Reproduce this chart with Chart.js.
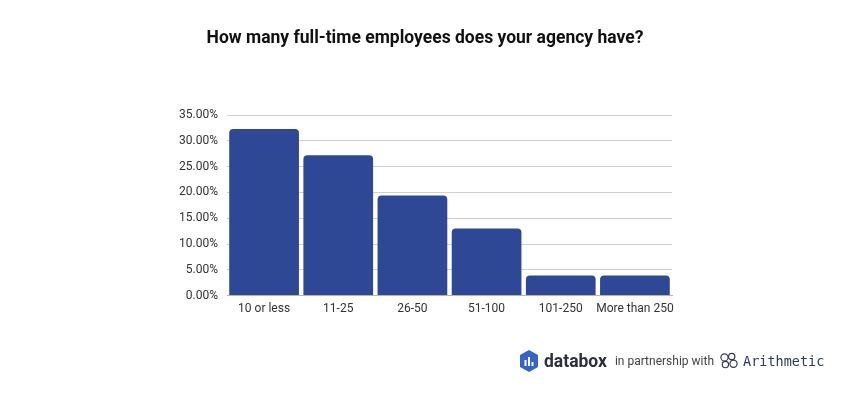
<!DOCTYPE html>
<html>
<head>
<meta charset="utf-8">
<script src="https://cdn.jsdelivr.net/npm/chart.js@4"></script>
<style>
  html, body { margin: 0; padding: 0; background: #fff; }
  #wrap { position: relative; width: 850px; height: 400px; }
  #footer { position: absolute; left: 519px; top: 348px; height: 26px; display: flex; align-items: center; font-family: Roboto, sans-serif; white-space: nowrap; }
  #footer .brand { font-size: 17.5px; font-weight: 700; color: #2d2f3a; margin-left: 5px; }
  #footer .with { font-size: 12px; color: #444; margin-left: 8px; }
  #footer .arith { font-family: 'DejaVu Sans Mono', monospace; font-size: 13.5px; color: #2c3b5a; margin-left: 4px; }
</style>
</head>
<body>
<div id="wrap">
  <canvas id="chart" width="850" height="400"></canvas>
  <div id="footer">
    <svg width="20" height="22" viewBox="0 0 20 22">
      <polygon points="10,0 19,5 19,17 10,22 1,17 1,5" fill="#3563c9"/>
      <rect x="5.5" y="10" width="2" height="6" fill="#fff"/>
      <rect x="9" y="7" width="2" height="9" fill="#fff"/>
      <rect x="12.5" y="12" width="2" height="4" fill="#fff"/>
    </svg>
    <span class="brand">databox</span>
    <span class="with">in partnership with</span>
    <svg width="20" height="18" viewBox="0 0 22 20" style="margin-left:5px">
      <g fill="none" stroke="#2c3b5a" stroke-width="1.3">
        <circle cx="6" cy="6" r="4"/>
        <circle cx="14" cy="5" r="3.5"/>
        <circle cx="7" cy="14" r="3.5"/>
        <circle cx="16" cy="13" r="4"/>
      </g>
    </svg>
    <span class="arith">Arithmetic</span>
  </div>
</div>
<script>
const categories = ['10 or less', '11-25', '26-50', '51-100', '101-250', 'More than 250'];
const shares = [32.3, 27.2, 19.4, 13.0, 3.9, 3.9];
const yTicks = [0, 5, 10, 15, 20, 25, 30, 35];

const textColor = '#333';
const barColor = '#2e4896';

new Chart(document.getElementById('chart').getContext('2d'), {
  type: 'bar',
  data: {
    labels: categories,
    datasets: [{
      data: shares,
      backgroundColor: barColor,
      borderRadius: { topLeft: 4, topRight: 4 },
      borderSkipped: 'bottom',
      barPercentage: 0.94,
      categoryPercentage: 1,
    }],
  },
  options: {
    responsive: false,
    animation: false,
    layout: { padding: { left: 178, right: 178, top: 0, bottom: 78 } },
    plugins: {
      legend: { display: false },
      tooltip: { enabled: false },
      title: {
        display: true,
        text: 'How many full-time employees does your agency have?',
        color: '#111',
        font: { family: 'Roboto', size: 17.5, weight: 'bold' },
        padding: { top: 28, bottom: 66 },
      },
    },
    scales: {
      x: {
        grid: { display: false, drawTicks: false },
        border: { color: '#b5b5b5' },
        ticks: { color: textColor, font: { family: 'Roboto', size: 12 }, maxRotation: 0, autoSkip: false, padding: 6 },
      },
      y: {
        min: 0,
        max: 35,
        afterBuildTicks: axis => { axis.ticks = yTicks.map(v => ({ value: v })); },
        afterFit: axis => { axis.width = 49; },
        grid: { color: '#d0d0d0', drawTicks: false },
        border: { display: false },
        ticks: {
          color: textColor,
          font: { family: 'Roboto', size: 12 },
          padding: 9,
          callback: v => v.toFixed(2) + '%',
        },
      },
    },
  },
});
</script>
</body>
</html>
